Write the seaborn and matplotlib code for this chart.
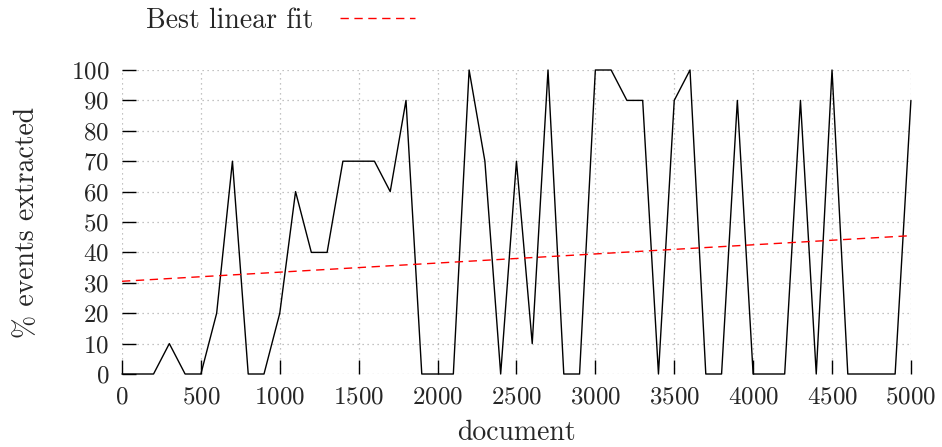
import pandas as pd
import matplotlib
matplotlib.use("Agg")
import matplotlib.pyplot as plt
import seaborn as sns

# valeurs (un point tous les 100 documents)
documents = list(range(0, 5001, 100))
pct_events = [0, 0, 0, 10, 0, 0, 20, 70, 0, 0,
              20, 60, 40, 40, 70, 70, 70, 60, 90, 0,
              0, 0, 100, 70, 0, 70, 10, 100, 0, 0,
              100, 100, 90, 90, 0, 90, 100, 0, 0, 90,
              0, 0, 0, 90, 0, 100, 0, 0, 0, 0,
              90]

# paramètres de la droite
fit_intercept = 30.5
fit_slope = 0.003

df = pd.DataFrame({"document": documents, "pct": pct_events})
df["fit"] = fit_intercept + fit_slope * df["document"]

sns.set_style("white")
plt.rcParams["font.family"] = ["cmr10", "DejaVu Serif"]
plt.rcParams["mathtext.fontset"] = "cm"
plt.rcParams["axes.formatter.use_mathtext"] = True

fig, ax = plt.subplots(figsize=(9.42, 4.47), dpi=100)
fig.subplots_adjust(left=0.1295, right=0.967, bottom=0.1633, top=0.8434)

sns.lineplot(data=df, x="document", y="pct", ax=ax, color="black",
             linewidth=1.0, clip_on=False, label="_nolegend_")
sns.lineplot(data=df, x="document", y="fit", ax=ax, color="red",
             linewidth=1.0, dashes=False, linestyle=(0, (6, 4)),
             label="Best linear fit")

ax.set_xlim(0, 5000)
ax.set_ylim(0, 100)
ax.set_xticks(range(0, 5001, 500))
ax.set_yticks(range(0, 101, 10))
ax.grid(True, color="#b0b0b0", linestyle=(0, (1, 3)), linewidth=0.9)
for s in ax.spines.values():
    s.set_visible(False)
ax.tick_params(axis="both", direction="in", length=10, width=1.0,
               color="black", labelsize=18)
ax.tick_params(axis="y", left=True, pad=9)
ax.tick_params(axis="x", bottom=True, pad=9)

ax.set_xlabel("document", fontsize=20, labelpad=8)
ax.set_ylabel("% events extracted", fontsize=20, labelpad=22)

ax.legend(loc="center", bbox_to_anchor=(0.298, 0.953),
          bbox_transform=fig.transFigure, frameon=False, fontsize=20,
          markerfirst=False, handlelength=2.7, handletextpad=0.95)

plt.savefig("out.png", dpi=100)
